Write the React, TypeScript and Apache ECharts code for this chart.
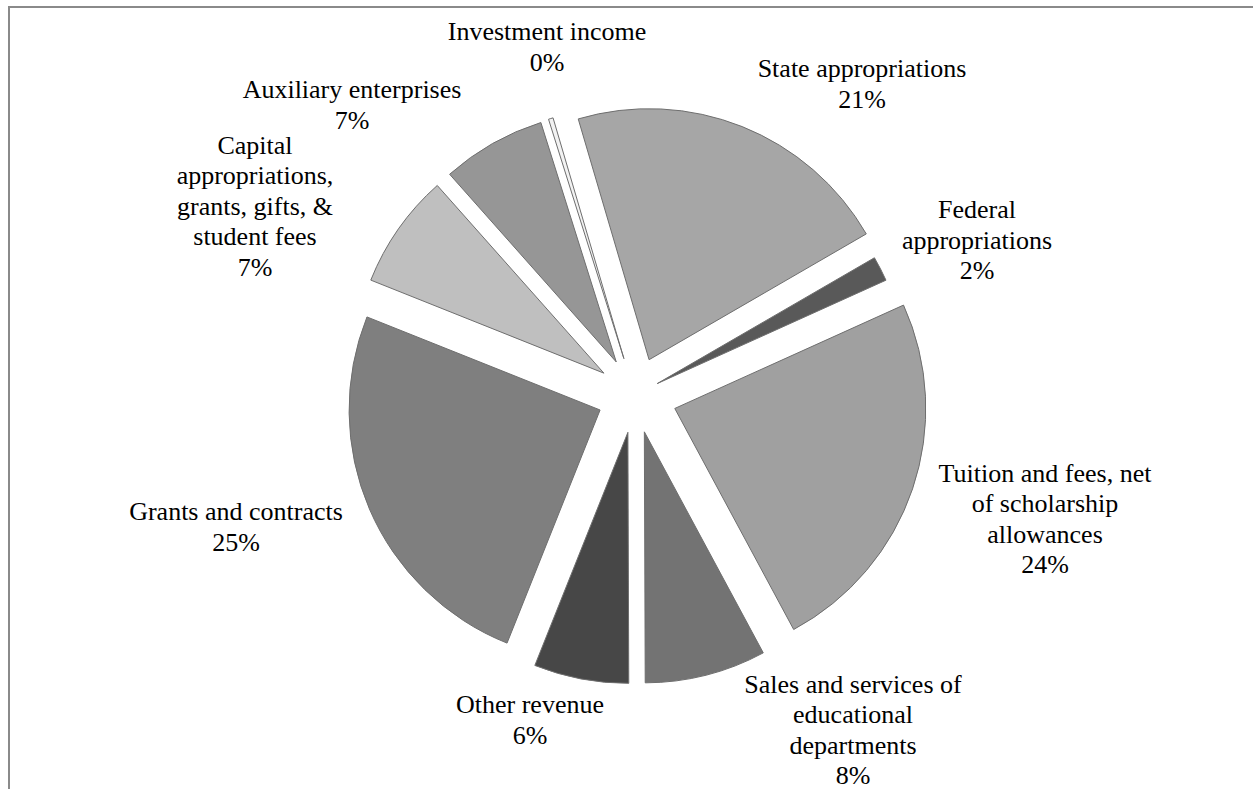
import React, { useEffect, useRef } from "react";
import * as echarts from "echarts";

// Categories in clockwise order, starting with State appropriations
const categories = [
  "State appropriations",
  "Federal appropriations",
  "Tuition and fees, net of scholarship allowances",
  "Sales and services of educational departments",
  "Other revenue",
  "Grants and contracts",
  "Capital appropriations, grants, gifts, & student fees",
  "Auxiliary enterprises",
  "Investment income",
];

// Label text as wrapped in the reference
const labelTexts = [
  "State appropriations",
  "Federal\nappropriations",
  "Tuition and fees, net\nof scholarship\nallowances",
  "Sales and services of\neducational\ndepartments",
  "Other revenue",
  "Grants and contracts",
  "Capital\nappropriations,\ngrants, gifts, &\nstudent fees",
  "Auxiliary enterprises",
  "Investment income",
];

// Share of revenue (percent)
const values = [21.2, 1.6, 23.9, 7.8, 6.1, 25.0, 7.4, 6.7, 0.3];

const colors = [
  "#a6a6a6",
  "#595959",
  "#a0a0a0",
  "#737373",
  "#474747",
  "#7f7f7f",
  "#bfbfbf",
  "#969696",
  "#f2f2f2",
];

// Explosion distance per slice (layout)
const explode = [38, 25, 42, 38, 38, 38, 38, 38, 38];

// Label block centres (layout, not data)
const labelCenters: [number, number][] = [
  [862, 84],
  [977, 240],
  [1045, 519],
  [853, 730],
  [530, 720],
  [236, 527],
  [255, 206],
  [352, 105],
  [547, 47],
];

export default function App() {
  const ref = useRef<HTMLDivElement>(null);

  useEffect(() => {
    if (!ref.current) return;
    const chart = echarts.init(ref.current, null, { renderer: "svg" });
    const common = {
      type: "pie",
      center: [635, 395],
      radius: 251,
      startAngle: 106.4,
      clockwise: true,
      avoidLabelOverlap: false,
      emphasis: { disabled: true, scale: false },
    };
    const offsets = Array.from(new Set(explode));
    const sliceSeries = offsets.map((off) => ({
      ...common,
      selectedMode: "multiple",
      selectedOffset: off,
      label: { show: false },
      labelLine: { show: false },
      data: categories.map((name, i) => {
        const mine = explode[i] === off;
        const style = mine
          ? { color: colors[i], borderColor: "#6e6e6e", borderWidth: 1 }
          : { color: "rgba(0,0,0,0)", borderColor: "rgba(0,0,0,0)", borderWidth: 0 };
        return {
          name,
          value: values[i],
          selected: true,
          itemStyle: style,
          select: { itemStyle: style },
        };
      }),
    }));
    const option: any = {
      animation: false,
      backgroundColor: "#ffffff",
      graphic: [
        {
          type: "rect",
          silent: true,
          z: -10,
          shape: { x: 9, y: 7, width: 1400, height: 1000 },
          style: { fill: "none", stroke: "#8a8a8a", lineWidth: 2 },
        },
      ],
      series: [
        ...sliceSeries,
        {
          ...common,
          silent: true,
          z: 5,
          itemStyle: { color: "rgba(0,0,0,0)", borderWidth: 0 },
          label: {
            show: true,
            position: "outside",
            fontFamily: "Liberation Serif",
            fontSize: 26,
            lineHeight: 30.5,
            color: "#000000",
            formatter: (p: any) =>
              `${labelTexts[p.dataIndex]}\n${Math.round(p.percent)}%`,
          },
          labelLine: { show: false },
          labelLayout: (p: any) => ({
            x: labelCenters[p.dataIndex][0],
            y: labelCenters[p.dataIndex][1],
            align: "center",
            verticalAlign: "middle",
          }),
          data: categories.map((name, i) => ({ name, value: values[i] })),
        },
      ],
    };
    chart.setOption(option);
    return () => chart.dispose();
  }, []);

  return (
    <div
      ref={ref}
      style={{
        position: "absolute",
        left: 0,
        top: 0,
        width: 1253,
        height: 789,
        background: "#fff",
      }}
    />
  );
}
